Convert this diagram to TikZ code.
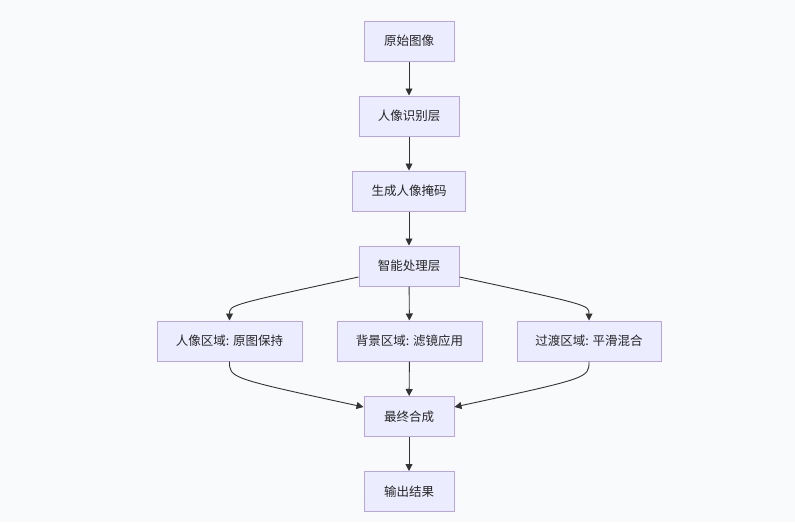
\documentclass[tikz,border=0pt]{standalone}
\usepackage{fontspec}
\setmainfont{Noto Sans CJK SC}
\usetikzlibrary{arrows.meta}
\definecolor{bgc}{HTML}{F9FAFB}
\definecolor{boxfill}{HTML}{ECECFF}
\definecolor{boxline}{HTML}{B9A4EC}
\definecolor{edgec}{HTML}{333333}
\begin{document}
\begin{tikzpicture}[x=1pt,y=-1pt,
  box/.style={draw=boxline,fill=boxfill,line width=1pt,inner sep=0pt,
    minimum height=40pt,font=\fontsize{12.5}{15}\selectfont,text=black!85},
  edge/.style={draw=edgec,line width=0.9pt,-{Triangle[length=7pt,width=7pt]}}]
\fill[bgc] (0,0) rectangle (795,522);
\useasboundingbox (0,0) rectangle (795,522);
\node[box,minimum width=90pt]  (n1) at (409,41)  {原始图像};
\node[box,minimum width=100pt] (n2) at (409,116) {人像识别层};
\node[box,minimum width=113pt] (n3) at (409,191) {生成人像掩码};
\node[box,minimum width=100pt] (n4) at (409,266) {智能处理层};
\node[box,minimum width=145pt] (n5) at (229.5,341) {人像区域: 原图保持};
\node[box,minimum width=145pt] (n6) at (409.5,341) {背景区域: 滤镜应用};
\node[box,minimum width=144pt] (n7) at (589,341) {过渡区域: 平滑混合};
\node[box,minimum width=90pt]  (n8) at (409,416.5) {最终合成};
\node[box,minimum width=90pt]  (n9) at (409,491.5) {输出结果};
\draw[edge] (n1) -- (n2);
\draw[edge] (n2) -- (n3);
\draw[edge] (n3) -- (n4);
\draw[edge] (n4) -- (n6);
\draw[edge] ([yshift=-11pt]n4.west) .. controls (229.5,305) .. (n5.north);
\draw[edge] ([yshift=-11pt]n4.east) .. controls (589,305) .. (n7.north);
\draw[edge] (n6) -- (n8);
\draw[edge] (n5.south) .. controls (229.5,378) .. ([yshift=9.5pt]n8.west);
\draw[edge] (n7.south) .. controls (589,378) .. ([yshift=9.5pt]n8.east);
\draw[edge] (n8) -- (n9);
\end{tikzpicture}
\end{document}
